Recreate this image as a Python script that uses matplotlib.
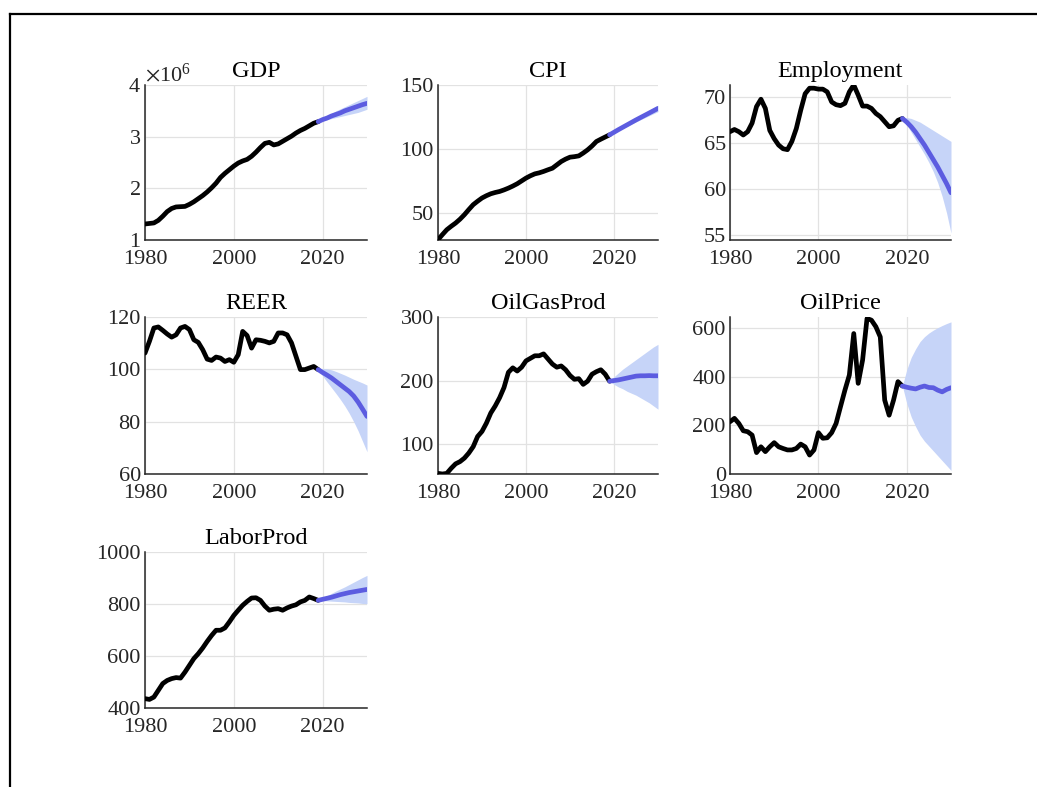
import numpy as np
import matplotlib
matplotlib.use("Agg")
import matplotlib.pyplot as plt
from matplotlib.lines import Line2D
from matplotlib.ticker import ScalarFormatter

plt.rcParams["font.family"] = ["Liberation Serif", "DejaVu Serif"]
plt.rcParams["mathtext.fontset"] = "stix"

# ---------------------------------------------------------------- data
years_hist = np.arange(1980, 2020)   # observed, annual
years_fcst = np.arange(2019, 2031)   # projection horizon (starts at last observation)

# GDP, millions (scaled to units below)
gdp_hist = [1.31, 1.32, 1.33, 1.38, 1.46, 1.55, 1.61, 1.64, 1.645, 1.65,
            1.69, 1.74, 1.80, 1.86, 1.93, 2.01, 2.10, 2.21, 2.29, 2.36,
            2.43, 2.49, 2.53, 2.56, 2.62, 2.70, 2.79, 2.87, 2.89, 2.84,
            2.86, 2.91, 2.96, 3.01, 3.07, 3.12, 3.16, 3.21, 3.26, 3.29]
gdp_fcst = [3.29, 3.33, 3.36, 3.40, 3.43, 3.46, 3.50, 3.53, 3.56, 3.59, 3.62, 3.645]
gdp_lo = [3.29, 3.31, 3.33, 3.35, 3.37, 3.39, 3.41, 3.43, 3.45, 3.47, 3.50, 3.53]
gdp_hi = [3.29, 3.35, 3.40, 3.45, 3.50, 3.54, 3.58, 3.62, 3.66, 3.70, 3.74, 3.78]
GDP_UNIT = 1e6

cpi_hist = [29.5, 33.5, 37.3, 40.0, 42.5, 45.5, 49.0, 53.0, 56.8, 59.5,
            62.0, 63.8, 65.3, 66.3, 67.1, 68.3, 69.7, 71.3, 73.1, 75.3,
            77.5, 79.3, 80.8, 81.6, 82.7, 84.0, 85.2, 87.8, 90.4, 92.3,
            93.8, 94.2, 94.8, 97.0, 99.5, 102.5, 106.0, 107.8, 109.5, 111.2]
cpi_fcst = [111.2, 113.2, 115.2, 117.1, 119.0, 120.9, 122.8, 124.6, 126.4, 128.2, 130.0, 131.8]
cpi_lo = [111.2, 112.8, 114.5, 116.2, 117.9, 119.6, 121.3, 122.9, 124.5, 126.1, 127.7, 129.3]
cpi_hi = [111.2, 113.6, 115.9, 118.0, 120.1, 122.2, 124.3, 126.3, 128.3, 130.3, 132.3, 134.3]

emp_hist = [66.26, 66.5, 66.26, 65.9, 66.26, 67.2, 69.0, 69.8, 68.8, 66.4,
            65.5, 64.8, 64.4, 64.3, 65.2, 66.6, 68.6, 70.4, 71.0, 71.0,
            70.9, 70.9, 70.6, 69.5, 69.2, 69.1, 69.35, 70.6, 71.35, 70.25,
            69.05, 69.05, 68.8, 68.25, 67.9, 67.35, 66.8, 66.9, 67.5, 67.7]
emp_fcst = [67.7, 67.3, 66.8, 66.2, 65.5, 64.8, 64.0, 63.2, 62.4, 61.5, 60.6, 59.6]
emp_lo = [67.7, 67.0, 66.2, 65.4, 64.6, 63.8, 62.9, 61.9, 60.7, 59.2, 57.4, 55.2]
emp_hi = [67.7, 67.8, 67.7, 67.5, 67.3, 67.0, 66.7, 66.4, 66.1, 65.8, 65.5, 65.2]

reer_hist = [106.2, 110.7, 115.8, 116.2, 114.9, 113.5, 112.3, 113.2, 115.8, 116.4,
             115.2, 111.3, 110.3, 107.5, 103.9, 103.4, 104.7, 104.3, 103.0, 103.7,
             102.7, 105.6, 114.5, 112.9, 108.1, 111.3, 111.1, 110.7, 110.1, 110.7,
             113.9, 113.9, 113.2, 110.1, 105.0, 99.9, 99.9, 100.5, 101.1, 99.9]
reer_fcst = [99.9, 98.8, 97.8, 96.7, 95.4, 94.1, 92.8, 91.5, 89.8, 87.5, 84.8, 82.0]
reer_lo = [99.9, 97.5, 95.2, 93.0, 90.8, 88.5, 86.0, 83.2, 80.0, 76.5, 72.5, 68.5]
reer_hi = [99.9, 100.3, 100.2, 99.8, 99.2, 98.5, 97.8, 97.0, 96.2, 95.5, 94.8, 94.0]

ogp_hist = [54, 53, 54, 62, 69, 72.5, 78, 86, 96, 112,
            120, 133, 149, 160, 173, 189, 213, 220, 215, 221,
            231, 235, 239, 239, 242, 234, 226, 221, 223, 217,
            208, 202, 203, 194, 199, 210, 214, 217, 210, 199]
ogp_fcst = [199, 200, 201, 202.5, 204, 205.5, 207, 207.5, 207.5, 207.8, 207.5, 207.5]
ogp_lo = [199, 194, 190, 187, 183, 180, 177, 173, 169, 165, 160, 155]
ogp_hi = [199, 206, 212, 218, 223, 228, 233, 238, 243, 248, 253, 257]

oil_hist = [215, 229, 208, 178, 174, 160, 88, 112, 92, 112,
            129, 112, 105, 99, 99, 105, 123, 112, 78, 99,
            170, 147, 149, 170, 208, 277, 345, 407, 578, 373,
            469, 640, 633, 606, 564, 304, 242, 304, 380, 362]
oil_fcst = [362, 357, 353, 350, 357, 362, 356, 355, 345, 338, 348, 355]
oil_lo = [362, 290, 235, 195, 160, 135, 115, 95, 75, 55, 35, 15]
oil_hi = [362, 430, 480, 515, 545, 565, 580, 592, 602, 611, 619, 626]

lp_hist = [436, 433, 442, 468, 494, 506, 513, 517, 515, 538,
           564, 590, 609, 631, 656, 679, 699, 699, 708, 731,
           756, 776, 795, 810, 823, 824, 814, 792, 776, 780,
           782, 776, 785, 792, 797, 808, 814, 827, 821, 814]
lp_fcst = [814, 818, 822, 826, 831, 836, 840, 844, 847, 850, 853, 856]
lp_lo = [814, 813, 812, 811, 810, 809, 808, 806, 805, 804, 802, 801]
lp_hi = [814, 823, 832, 841, 850, 858, 866, 875, 884, 893, 902, 910]

titles = ["GDP", "CPI", "Employment", "REER", "OilGasProd", "OilPrice", "LaborProd"]
x_ticks = [1980, 2000, 2020]
x_limits = (1980, 2030)

# ---------------------------------------------------------------- panels
W, H = 1037, 787
HIST_COLOR = "black"
FCST_COLOR = "#5c5ce0"
BAND_COLOR = "#c6d4f8"
TEXT_COLOR = "#262626"
TICK_SIZE = 16
TITLE_SIZE = 17.5
LINE_W = 3.4

panels = [
    dict(hist=np.array(gdp_hist) * GDP_UNIT, fcst=np.array(gdp_fcst) * GDP_UNIT,
         lo=np.array(gdp_lo) * GDP_UNIT, hi=np.array(gdp_hi) * GDP_UNIT,
         yticks=[1e6, 2e6, 3e6, 4e6], ylim=(1e6, 4e6), box=(145, 85, 367, 240), sci=True),
    dict(hist=cpi_hist, fcst=cpi_fcst, lo=cpi_lo, hi=cpi_hi,
         yticks=[50, 100, 150], ylim=(29.3, 150), box=(438, 85, 658, 240)),
    dict(hist=emp_hist, fcst=emp_fcst, lo=emp_lo, hi=emp_hi,
         yticks=[55, 60, 65, 70], ylim=(54.45, 71.35), box=(730, 85, 951, 240)),
    dict(hist=reer_hist, fcst=reer_fcst, lo=reer_lo, hi=reer_hi,
         yticks=[60, 80, 100, 120], ylim=(60, 120), box=(145, 317, 367, 474)),
    dict(hist=ogp_hist, fcst=ogp_fcst, lo=ogp_lo, hi=ogp_hi,
         yticks=[100, 200, 300], ylim=(53, 300), box=(438, 317, 658, 474)),
    dict(hist=oil_hist, fcst=oil_fcst, lo=oil_lo, hi=oil_hi,
         yticks=[0, 200, 400, 600], ylim=(0, 646), box=(730, 317, 951, 474)),
    dict(hist=lp_hist, fcst=lp_fcst, lo=lp_lo, hi=lp_hi,
         yticks=[400, 600, 800, 1000], ylim=(400, 1000), box=(145, 552, 367, 708)),
]

fig = plt.figure(figsize=(W / 100, H / 100), dpi=100)
fig.patch.set_facecolor("white")

for title, p in zip(titles, panels):
    l, t, r, b = p["box"]
    ax = fig.add_axes([l / W, 1 - b / H, (r - l) / W, (b - t) / H])

    ax.fill_between(years_fcst, p["lo"], p["hi"], color=BAND_COLOR, lw=0, zorder=2)
    ax.plot(years_hist, p["hist"], color=HIST_COLOR, lw=LINE_W,
            solid_joinstyle="round", solid_capstyle="round", zorder=3)
    ax.plot(years_fcst, p["fcst"], color=FCST_COLOR, lw=LINE_W,
            solid_joinstyle="round", solid_capstyle="round", zorder=3)

    ax.set_xlim(*x_limits)
    ax.set_xticks(x_ticks)
    ax.set_ylim(*p["ylim"])
    ax.set_yticks(p["yticks"])
    if p.get("sci"):
        fmt = ScalarFormatter(useMathText=True)
        fmt.set_powerlimits((0, 0))
        ax.yaxis.set_major_formatter(fmt)
        ax.yaxis.get_offset_text().set_fontsize(TICK_SIZE)
        ax.yaxis.get_offset_text().set_color(TEXT_COLOR)

    ax.grid(True, color="#e2e2e2", lw=0.9, zorder=0)
    ax.set_axisbelow(True)
    for side in ("top", "right"):
        ax.spines[side].set_visible(False)
    for side in ("left", "bottom"):
        ax.spines[side].set_color("#262626")
        ax.spines[side].set_linewidth(1.1)
    ax.tick_params(direction="in", length=0, labelsize=TICK_SIZE, colors=TEXT_COLOR)
    ax.tick_params(axis="x", pad=7)
    ax.tick_params(axis="y", pad=3)
    ax.set_title(title, fontsize=TITLE_SIZE, color="black", pad=6)

# figure frame (top and left edges)
fig.add_artist(Line2D([10 / W, 1.01], [1 - 14 / H, 1 - 14 / H], color="black", lw=1.6,
                      transform=fig.transFigure))
fig.add_artist(Line2D([10 / W, 10 / W], [1 - 14 / H, -0.01], color="black", lw=1.6,
                      transform=fig.transFigure))

fig.savefig("out.png", dpi=100, facecolor="white")
